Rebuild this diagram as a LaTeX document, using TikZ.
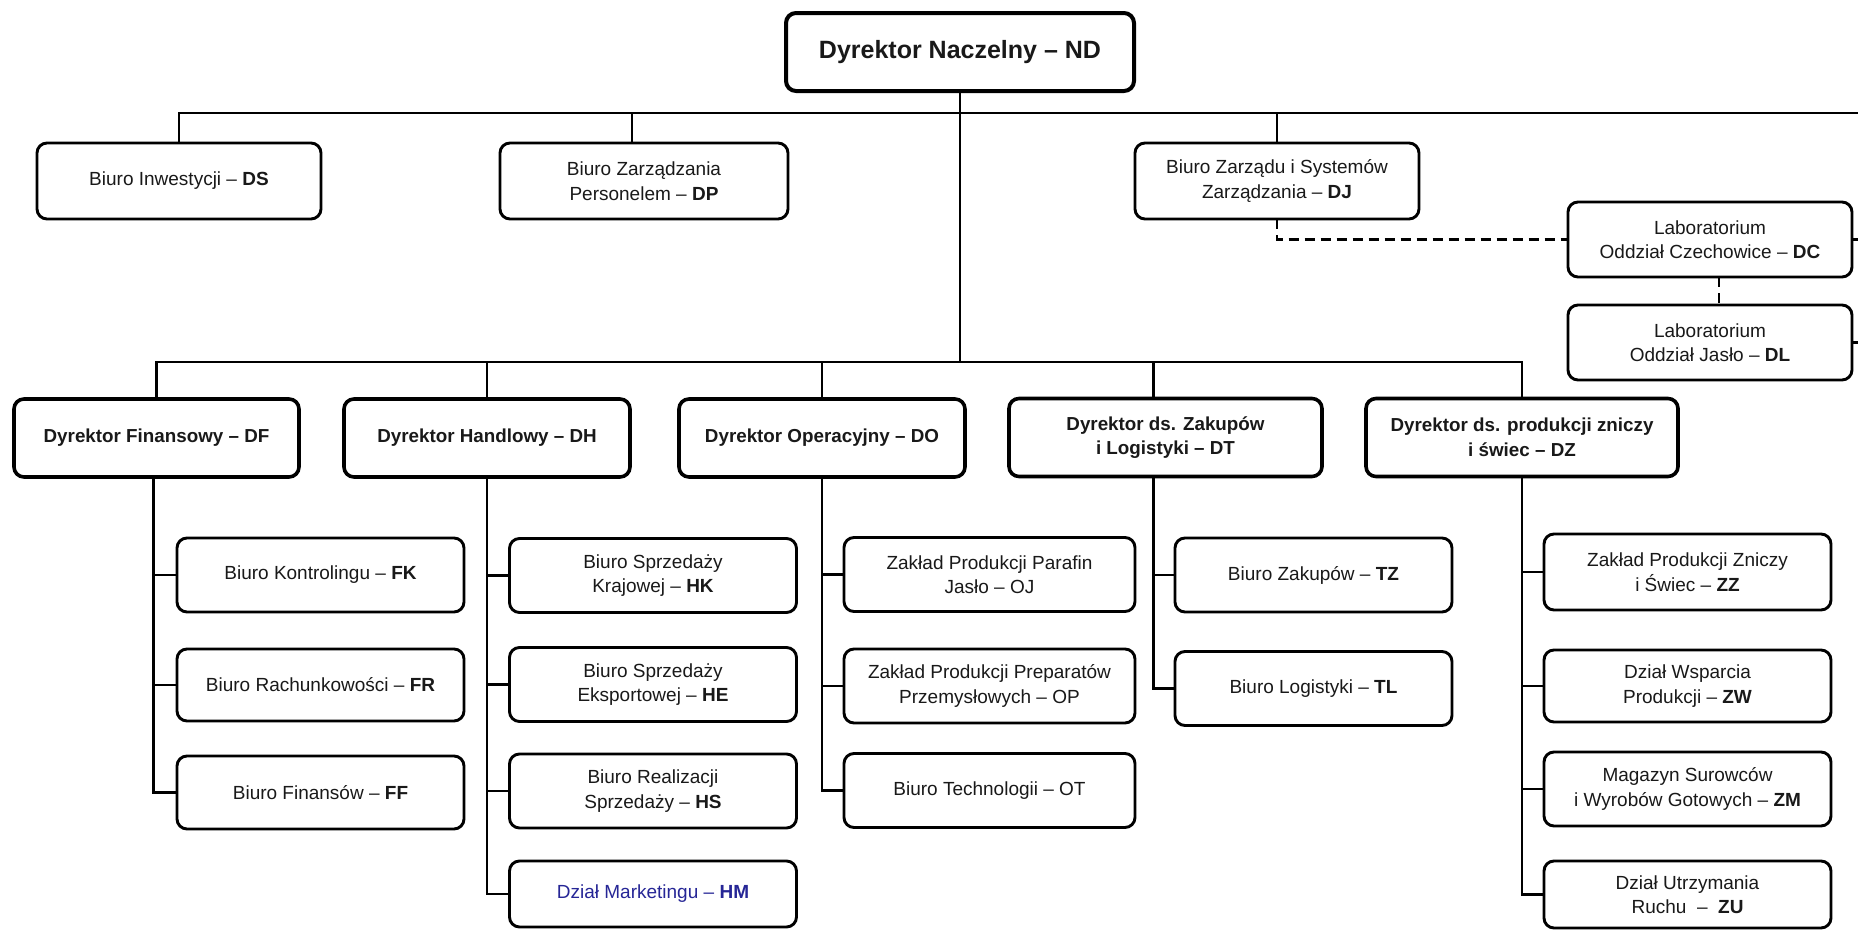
\documentclass[tikz,border=0pt]{standalone}
\usepackage{fontspec}
\setmainfont{Liberation Sans}
\definecolor{mblue}{RGB}{38,38,150}
\definecolor{txt}{RGB}{25,25,25}
\begin{document}
\begin{tikzpicture}[x=1pt,y=-1pt,
  bx/.style={draw=black, rounded corners=10pt, line width=2.9pt, align=center, inner sep=0pt, outer sep=0pt, text=txt, font=\fontsize{19}{24.5}\selectfont},
  subbx/.style={bx, minimum width=287pt, minimum height=74pt},
  topbx/.style={bx, minimum width=284pt, minimum height=76pt},
  dirbx/.style={bx, line width=3.6pt, minimum width=286pt, minimum height=78pt, font=\fontsize{18.8}{24.5}\selectfont\bfseries},
  conn/.style={line width=2.7pt},
  dconn/.style={line width=2.7pt, dash pattern=on 10pt off 6pt}
]
\useasboundingbox[fill=white] (0,0) rectangle (1858,930);

% top level
\node[bx, line width=4pt, minimum width=348pt, minimum height=78pt, font=\fontsize{25}{30}\selectfont\bfseries] (ND) at (960,52) {Dyrektor Naczelny – ND};

% staff units
\node[topbx] (DS) at (179,181) {Biuro Inwestycji – \textbf{DS}};
\node[topbx, minimum width=288pt] (DP) at (644,181) {Biuro Zarządzania\\Personelem – \textbf{DP}};
\node[topbx] (DJ) at (1277,181) {Biuro Zarządu i Systemów\\Zarządzania – \textbf{DJ}};
\node[topbx, minimum height=75pt] (DC) at (1710,239.5) {Laboratorium\\Oddział Czechowice – \textbf{DC}};
\node[topbx, minimum height=75pt] (DL) at (1710,342.5) {Laboratorium\\Oddział Jasło – \textbf{DL}};

% directors
\node[dirbx, minimum width=285pt] (DF) at (156.5,438) {Dyrektor Finansowy – DF};
\node[dirbx] (DH) at (487,438) {Dyrektor Handlowy – DH};
\node[dirbx] (DO) at (822,438) {Dyrektor Operacyjny – DO};
\node[dirbx, minimum width=313pt] (DT) at (1165.5,437.5) {Dyrektor ds. Zakupów\\i Logistyki – DT};
\node[dirbx, minimum width=312pt] (DZ) at (1522,437.5) {Dyrektor ds. produkcji zniczy\\i świec – DZ};

% finance
\node[subbx] (FK) at (320.5,575) {Biuro Kontrolingu – \textbf{FK}};
\node[subbx, minimum height=72pt] (FR) at (320.5,685) {Biuro Rachunkowości – \textbf{FR}};
\node[subbx, minimum height=73pt] (FF) at (320.5,792.5) {Biuro Finansów – \textbf{FF}};

% trade
\node[subbx] (HK) at (653,575.5) {Biuro Sprzedaży\\Krajowej – \textbf{HK}};
\node[subbx] (HE) at (653,684.5) {Biuro Sprzedaży\\Eksportowej – \textbf{HE}};
\node[subbx] (HS) at (653,791) {Biuro Realizacji\\Sprzedaży – \textbf{HS}};
\node[subbx, minimum height=66pt, text=mblue] (HM) at (653,894) {Dział Marketingu – \textbf{HM}};

% operations
\node[subbx, minimum width=291pt] (OJ) at (989.5,574.5) {Zakład Produkcji Parafin\\Jasło – OJ};
\node[subbx, minimum width=291pt] (OP) at (989.5,686) {Zakład Produkcji Preparatów\\Przemysłowych – OP};
\node[subbx, minimum width=291pt] (OT) at (989.5,790.5) {Biuro Technologii – OT};

% purchasing
\node[subbx, minimum width=277pt] (TZ) at (1313.5,575) {Biuro Zakupów – \textbf{TZ}};
\node[subbx, minimum width=277pt] (TL) at (1313.5,688.5) {Biuro Logistyki – \textbf{TL}};

% candles
\node[subbx, minimum height=76pt] (ZZ) at (1687.5,572) {Zakład Produkcji Zniczy\\i Świec – \textbf{ZZ}};
\node[subbx, minimum height=72pt] (ZW) at (1687.5,686) {Dział Wsparcia\\Produkcji – \textbf{ZW}};
\node[subbx] (ZM) at (1687.5,789) {Magazyn Surowców\\i Wyrobów Gotowych – \textbf{ZM}};
\node[subbx, minimum height=67pt] (ZU) at (1687.5,894.5) {Dział Utrzymania\\Ruchu~ – ~\textbf{ZU}};

% helper coordinates
\coordinate (tbR) at (1858,113);
\coordinate (lbY) at (0,362);
\coordinate (dpT) at ([xshift=-12pt]DP.north);
\coordinate (dtT) at ([xshift=-12pt]DT.north);
\coordinate (dtB) at ([xshift=-12pt]DT.south);
\coordinate (dfB) at ([xshift=-3pt]DF.south);
\coordinate (dcB) at ([xshift=9pt]DC.south);
\coordinate (dcR) at (1858,239.5);
\coordinate (dlR) at (1858,342.5);

% upper bus
\draw[conn] (DS.north) |- (tbR);
\draw[conn] (dpT) -- (dpT |- tbR);
\draw[conn] (DJ.north) -- (DJ.north |- tbR);

% main trunk and lower bus
\draw[conn] (ND.south) -- (ND.south |- lbY);
\draw[conn] (DF.north) |- (DZ.north |- lbY) -- (DZ.north);
\draw[conn] (DH.north) -- (DH.north |- lbY);
\draw[conn] (DO.north) -- (DO.north |- lbY);
\draw[conn] (dtT) -- (dtT |- lbY);

% columns
\draw[conn] (dfB) |- (FF.west);
\draw[conn] (FK.west) -- (FK.west -| dfB);
\draw[conn] (FR.west) -- (FR.west -| dfB);

\draw[conn] (DH.south) |- (HM.west);
\draw[conn] (HK.west) -- (HK.west -| DH.south);
\draw[conn] (HE.west) -- (HE.west -| DH.south);
\draw[conn] (HS.west) -- (HS.west -| DH.south);

\draw[conn] (DO.south) |- (OT.west);
\draw[conn] (OJ.west) -- (OJ.west -| DO.south);
\draw[conn] (OP.west) -- (OP.west -| DO.south);

\draw[conn] (dtB) |- (TL.west);
\draw[conn] (TZ.west) -- (TZ.west -| dtB);

\draw[conn] (DZ.south) |- (ZU.west);
\draw[conn] (ZZ.west) -- (ZZ.west -| DZ.south);
\draw[conn] (ZW.west) -- (ZW.west -| DZ.south);
\draw[conn] (ZM.west) -- (ZM.west -| DZ.south);

% laboratories
\draw[dconn] (DJ.south) |- (DC.west);
\draw[dconn] (dcB) -- (dcB |- DL.north);
\draw[conn] (DC.east) -- (dcR);
\draw[dconn] (DL.east) -- (dlR);
\end{tikzpicture}
\end{document}
